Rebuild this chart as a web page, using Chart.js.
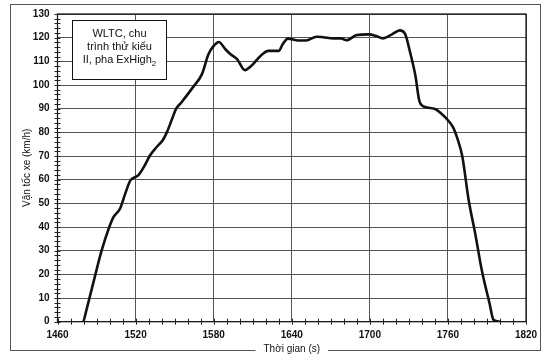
<!DOCTYPE html>
<html><head><meta charset="utf-8">
<script src="https://cdn.jsdelivr.net/npm/chart.js@4"></script>
<style>html,body{margin:0;padding:0;background:#fff}#wrap{width:549px;height:360px}</style>
</head><body><div id="wrap"><canvas id="c" width="549" height="360"></canvas></div>
<script>
const timeS = [1480,1489,1494,1500,1503,1508,1512,1516,1522,1527,1531,1536,1541,1544,1548,1551,1555,1564,1571,1576,1580,1584,1589,1593,1598,1604,1609,1616,1622,1630,1633,1637,1645,1651,1659,1664,1672,1678,1682,1690,1699,1705,1710,1717,1723,1727,1731,1735,1738,1742,1750,1758,1764,1767,1771,1776,1781,1786,1792,1795,1800];
const speedKmh = [0,19.7,30.2,40.3,44.2,47.7,54,59.7,61.8,66,70.2,73.7,76.8,80,85.6,89.8,92.5,99,104.6,113,116.5,118.2,115.1,113,110.9,106.3,108.1,112.3,114.4,114.4,117.2,119.6,118.8,118.8,120.4,120.2,119.7,119.7,118.9,121.1,121.4,120.7,119.7,121.4,123.1,121.7,113.7,104,93.4,90.8,89.9,86.3,82.1,77.9,70,51.2,37.2,21.8,7.7,0.8,0];
const xTicks = [1460,1520,1580,1640,1700,1760,1820];
const yTicks = [0,10,20,30,40,50,60,70,80,90,100,110,120,130];
const noteLines = ["WLTC, chu","trình thử kiểu","II, pha ExHigh"];
const noteSub = "2";
const xTitle = "Thời gian (s)";
const yTitle = "Vận tốc xe (km/h)";

const FONT = '"Liberation Sans", Arial, sans-serif';

const deco = {
  id:'deco',
  beforeDraw(chart){
    const ctx = chart.ctx;
    ctx.save();
    ctx.fillStyle='#fff';
    ctx.fillRect(0,0,chart.width,chart.height);
    ctx.strokeStyle='#555';
    ctx.lineWidth=1;
    ctx.strokeRect(10.5,4.5,530,346);
    ctx.restore();
  },
  afterDraw(chart){
    const ctx = chart.ctx;
    const a = chart.chartArea;
    const xs = chart.scales.x, ys = chart.scales.y;
    ctx.save();
    ctx.strokeStyle='#111'; ctx.lineWidth=1.2;
    ctx.strokeRect(a.left,a.top,a.right-a.left,a.bottom-a.top);
    ctx.strokeStyle='#222'; ctx.lineWidth=1;
    ctx.beginPath();
    for(let v=0; v<=130; v+=2){
      const y = Math.round(ys.getPixelForValue(v))+0.5;
      ctx.moveTo(a.left-3,y); ctx.lineTo(a.left+3,y);
    }
    for(let t=1460; t<=1820; t+=10){
      const x = Math.round(xs.getPixelForValue(t))+0.5;
      ctx.moveTo(x,a.bottom-3); ctx.lineTo(x,a.bottom+3);
    }
    ctx.stroke();
    const bx=72.5, by=20.5, bw=94, bh=59;
    ctx.fillStyle='#fff'; ctx.fillRect(bx,by,bw,bh);
    ctx.strokeStyle='#111'; ctx.lineWidth=1; ctx.strokeRect(bx,by,bw,bh);
    ctx.fillStyle='#111';
    ctx.font='11px '+FONT;
    ctx.textAlign='center'; ctx.textBaseline='middle';
    const cx = bx+bw/2;
    ctx.fillText(noteLines[0],cx,34);
    ctx.fillText(noteLines[1],cx,47);
    const w3 = ctx.measureText(noteLines[2]).width;
    ctx.font='8px '+FONT;
    const ws = ctx.measureText(noteSub).width;
    const start = cx-(w3+ws)/2;
    ctx.font='11px '+FONT; ctx.textAlign='left';
    ctx.fillText(noteLines[2],start,60);
    ctx.font='8px '+FONT;
    ctx.fillText(noteSub,start+w3,64);
    ctx.font='10px '+FONT;
    ctx.textAlign='center';
    const tw = ctx.measureText(xTitle).width;
    const tx = (a.left+a.right)/2, ty = 349;
    ctx.fillStyle='#fff'; ctx.fillRect(tx-tw/2-8,ty-7,tw+16,12);
    ctx.fillStyle='#111';
    ctx.fillText(xTitle,tx,ty);
    ctx.translate(27,(a.top+a.bottom)/2);
    ctx.rotate(-Math.PI/2);
    ctx.fillText(yTitle,0,0);
    ctx.restore();
  }
};

new Chart(document.getElementById('c'),{
  type:'line',
  data:{datasets:[{
    data: timeS.map((t,i)=>({x:t,y:speedKmh[i]})),
    borderColor:'#111', borderWidth:2.6, pointRadius:0,
    cubicInterpolationMode:'monotone', fill:false
  }]},
  options:{
    responsive:false, animation:false, devicePixelRatio:1,
    layout:{padding:{left:10,right:23,top:13,bottom:0}},
    plugins:{legend:{display:false},tooltip:{enabled:false}},
    scales:{
      x:{type:'linear',min:1460,max:1820,
        afterBuildTicks(s){s.ticks=xTicks.map(v=>({value:v}));},
        afterFit(s){s.height=38.3;},
        grid:{color:'#555',lineWidth:1,drawTicks:false},
        border:{display:false},
        ticks:{padding:8,color:'#111',font:{family:FONT,size:10,weight:'bold'},maxRotation:0,callback:v=>String(v)}
      },
      y:{type:'linear',min:0,max:130,
        afterBuildTicks(s){s.ticks=yTicks.map(v=>({value:v}));},
        afterFit(s){s.width=47.5;},
        grid:{color:'#555',lineWidth:1,drawTicks:false},
        border:{display:false},
        ticks:{padding:8,color:'#111',font:{family:FONT,size:10,weight:'bold'},callback:v=>String(v)}
      }
    }
  },
  plugins:[deco]
});
</script></body></html>
